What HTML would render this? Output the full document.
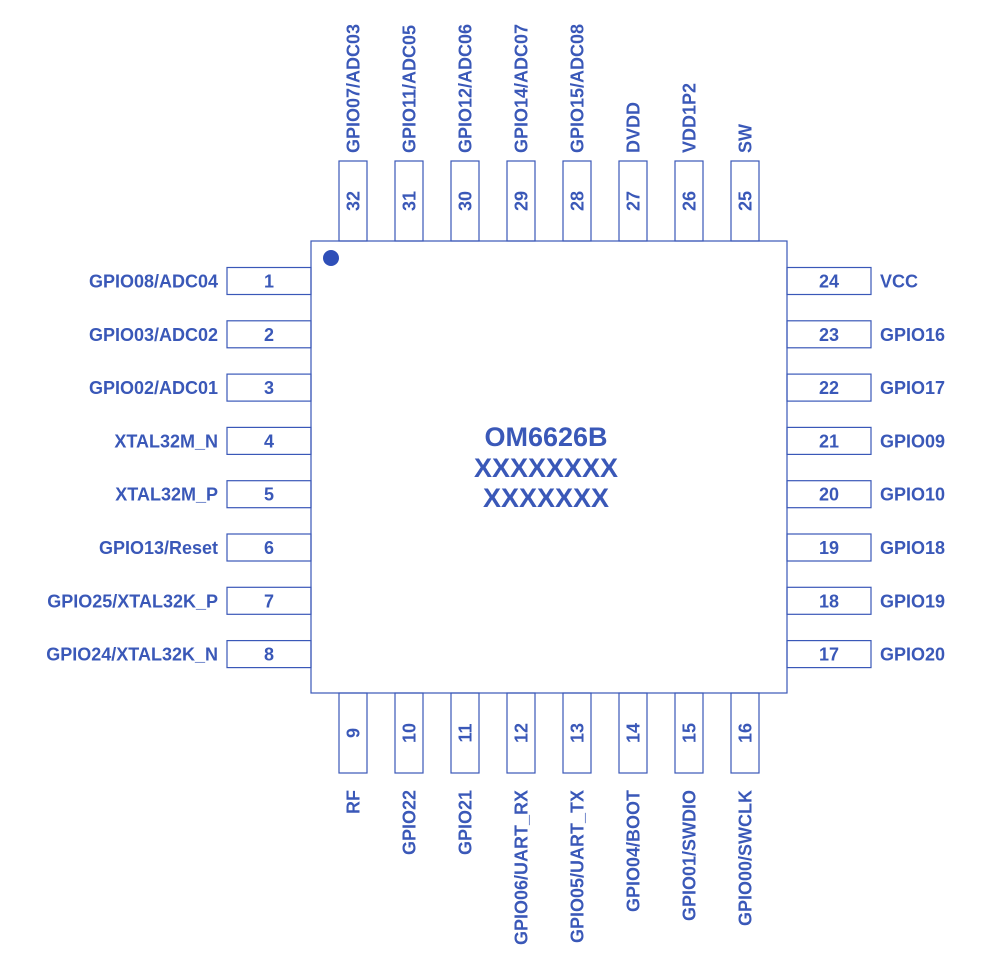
<!DOCTYPE html>
<html><head><style>body{margin:0;background:#fff}svg{display:block}</style></head><body>
<svg width="1000" height="972" viewBox="0 0 1000 972" xmlns="http://www.w3.org/2000/svg" font-family="Liberation Sans, sans-serif" font-weight="bold" fill="#3a58b8">
<g fill="none" stroke="#3a58b8" stroke-width="1.2">
<rect x="311" y="241" width="476" height="452"/>
</g>
<circle cx="331" cy="258" r="8" fill="#2f4fb8"/>
<text x="546" y="446" font-size="27" text-anchor="middle">OM6626B</text>
<text x="546" y="477" font-size="27" text-anchor="middle">XXXXXXXX</text>
<text x="546" y="507" font-size="27" text-anchor="middle">XXXXXXX</text>
<g id="pins" font-size="18"></g>
</svg>
<script>
const g=document.getElementById('pins');const NS='http://www.w3.org/2000/svg';
function el(t,a,txt){const e=document.createElementNS(NS,t);for(const k in a)e.setAttribute(k,a[k]);if(txt!==undefined)e.textContent=txt;g.appendChild(e);return e;}
const L=["GPIO08/ADC04","GPIO03/ADC02","GPIO02/ADC01","XTAL32M_N","XTAL32M_P","GPIO13/Reset","GPIO25/XTAL32K_P","GPIO24/XTAL32K_N"];
const R=["VCC","GPIO16","GPIO17","GPIO09","GPIO10","GPIO18","GPIO19","GPIO20"];
const B=["RF","GPIO22","GPIO21","GPIO06/UART_RX","GPIO05/UART_TX","GPIO04/BOOT","GPIO01/SWDIO","GPIO00/SWCLK"];
const T=["GPIO07/ADC03","GPIO11/ADC05","GPIO12/ADC06","GPIO14/ADC07","GPIO15/ADC08","DVDD","VDD1P2","SW"];
const st={fill:"none",stroke:"#3a58b8","stroke-width":"1.2"};
for(let i=0;i<8;i++){
 const y=281+i*53.3;
 el('rect',Object.assign({x:227,y:y-13.5,width:84,height:27},st));
 el('text',{x:269,y:y+6.5,"text-anchor":"middle"},String(i+1));
 el('text',{x:218,y:y+6.5,"text-anchor":"end"},L[i]);
 el('rect',Object.assign({x:787,y:y-13.5,width:84,height:27},st));
 el('text',{x:829,y:y+6.5,"text-anchor":"middle"},String(24-i));
 el('text',{x:880,y:y+6.5},R[i]);
 const x=353+i*56;
 el('rect',Object.assign({x:x-14,y:693,width:28,height:80},st));
 el('text',{x:0,y:0,"text-anchor":"middle",transform:`translate(${x+6.5},733) rotate(-90)`},String(9+i));
 el('text',{x:0,y:0,"text-anchor":"end",transform:`translate(${x+6.5},790) rotate(-90)`},B[i]);
 el('rect',Object.assign({x:x-14,y:161,width:28,height:80},st));
 el('text',{x:0,y:0,"text-anchor":"middle",transform:`translate(${x+6.5},201) rotate(-90)`},String(32-i));
 el('text',{x:0,y:0,"text-anchor":"start",transform:`translate(${x+6.5},153) rotate(-90)`},T[i]);
}
</script>
</body></html>
